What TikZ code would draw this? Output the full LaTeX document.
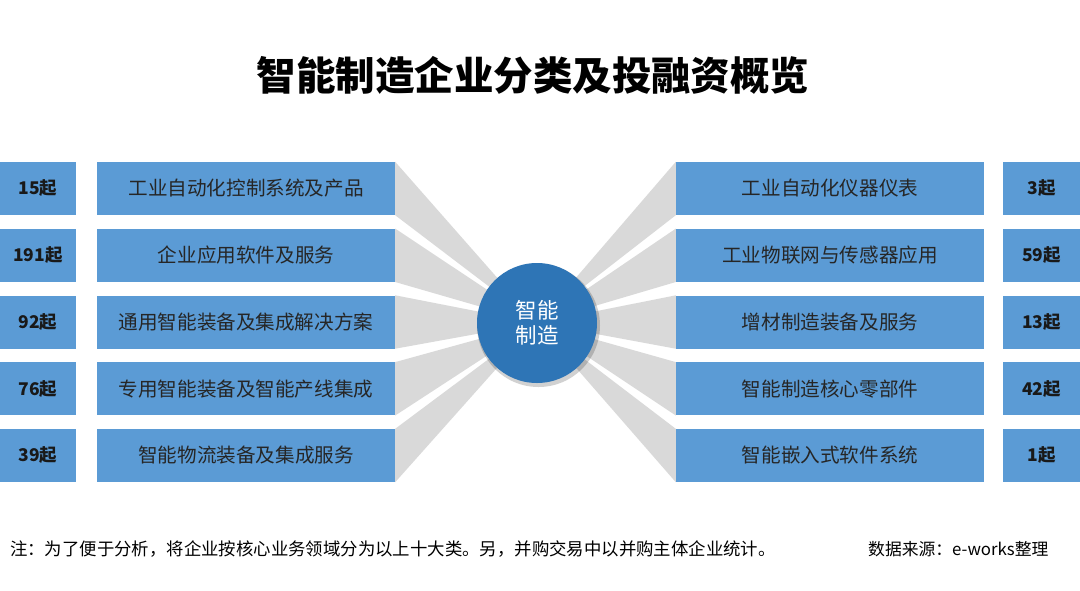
\documentclass[tikz,border=0pt]{standalone}
\usepackage{fontspec}
\setmainfont{Noto Sans CJK SC}
\usetikzlibrary{positioning}

\definecolor{boxblue}{HTML}{5B9BD5}
\definecolor{hubblue}{HTML}{2E75B6}
\definecolor{fangray}{HTML}{D9D9D9}

\begin{document}
\begin{tikzpicture}[
    x=1pt, y=-1pt,
    cntbox/.style={fill=boxblue, minimum width=76pt, minimum height=53pt, inner sep=0pt, font=\fontsize{17.5}{17.5}\selectfont\bfseries, text=black!90},
    lblbox/.style={fill=boxblue, minimum height=53pt, inner sep=0pt, font=\fontsize{19.6}{19.6}\selectfont, text=black!85},
    leftlbl/.style={lblbox, minimum width=298pt},
    rightlbl/.style={lblbox, minimum width=308pt},
    wedge/.style={fill=fangray, draw=none},
    note/.style={font=\fontsize{17.4}{17.4}\selectfont, text=black, inner sep=0pt}
]
% --- canvas ---
\fill[white] (0,0) rectangle (1080,590);
\useasboundingbox (0,0) rectangle (1080,590);

% --- title ---
\node[font=\fontsize{39.5}{39.5}\selectfont\bfseries] (title) at (533,75) {智能制造企业分类及投融资概览};

% --- hub ---
\node[circle, minimum size=120pt, inner sep=0pt] (hub) at (537,323) {};

% --- left column ---
\node[cntbox] (c1) at (38,188.5) {15起};
\node[cntbox] (c2) at (38,255.3) {191起};
\node[cntbox] (c3) at (38,322) {92起};
\node[cntbox] (c4) at (38,388.8) {76起};
\node[cntbox] (c5) at (38,455.5) {39起};

\node[leftlbl] (l1) at (246,188.5) {工业自动化控制系统及产品};
\node[leftlbl] (l2) at (246,255.3) {企业应用软件及服务};
\node[leftlbl] (l3) at (246,322) {通用智能装备及集成解决方案};
\node[leftlbl] (l4) at (246,388.8) {专用智能装备及智能产线集成};
\node[leftlbl] (l5) at (246,455.5) {智能物流装备及集成服务};

% --- right column ---
\node[rightlbl] (r1) at (830,188.5) {工业自动化仪器仪表};
\node[rightlbl] (r2) at (830,255.3) {工业物联网与传感器应用};
\node[rightlbl] (r3) at (830,322) {增材制造装备及服务};
\node[rightlbl] (r4) at (830,388.8) {智能制造核心零部件};
\node[rightlbl] (r5) at (830,455.5) {智能嵌入式软件系统};

\node[cntbox, minimum width=77pt] (d1) at (1041.5,188.5) {3起};
\node[cntbox, minimum width=77pt] (d2) at (1041.5,255.3) {59起};
\node[cntbox, minimum width=77pt] (d3) at (1041.5,322) {13起};
\node[cntbox, minimum width=77pt] (d4) at (1041.5,388.8) {42起};
\node[cntbox, minimum width=77pt] (d5) at (1041.5,455.5) {1起};

% --- fans toward the hub ---
\foreach \i in {1,...,5}{
  \fill[wedge] (l\i.north east) -- (hub.center) -- (l\i.south east) -- cycle;
  \fill[wedge] (r\i.north west) -- (hub.center) -- (r\i.south west) -- cycle;
}

% --- hub on top ---
\fill[black, opacity=0.18] ([shift={(1.5,2.5)}]hub.center) circle (61.5);
\fill[hubblue] (hub.center) circle (60);
\node[text=white, align=center, font=\fontsize{21.5}{25}\selectfont] (hubtxt) at (hub.center) {智能\\制造};

% --- notes ---
\node[note, anchor=west] (foot) at (10,549) {注：为了便于分析，将企业按核心业务领域分为以上十大类。另，并购交易中以并购主体企业统计。};
\node[note, anchor=west, font=\fontsize{16.8}{16.8}\selectfont] (src) at (868,549) {数据来源：e-works整理};

\end{tikzpicture}
\end{document}
